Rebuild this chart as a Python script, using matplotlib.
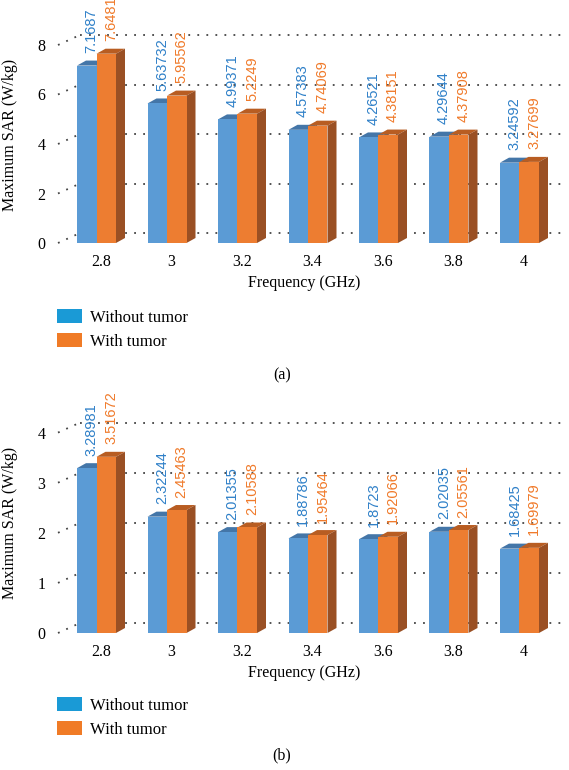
import numpy as np
import matplotlib
matplotlib.use("Agg")
import matplotlib.pyplot as plt
from matplotlib.patches import Polygon, Patch

# data
freqs = ['2.8', '3', '3.2', '3.4', '3.6', '3.8', '4']
sar_a_without = [7.1687, 5.63732, 4.99371, 4.57383, 4.26521, 4.29644, 3.24592]
sar_a_with = [7.6481, 5.95562, 5.2249, 4.74069, 4.38151, 4.37908, 3.27699]
sar_b_without = [3.28981, 2.32244, 2.01355, 1.88786, 1.8723, 2.02035, 1.68425]
sar_b_with = [3.51672, 2.45463, 2.10588, 1.95464, 1.92066, 2.05561, 1.69979]
yticks_a = [0, 2, 4, 6, 8]
yticks_b = [0, 1, 2, 3, 4]

plt.rcParams['font.family'] = ['Liberation Serif', 'DejaVu Serif']

W, H = 569, 770
fig = plt.figure(figsize=(W / 100, H / 100), dpi=100)

# colours
blue_front, blue_top, blue_side = '#5b9bd5', '#4476a8', '#3d6a98'
orange_front, orange_top, orange_side = '#ed7d31', '#b85d22', '#9a5024'
blue_txt, orange_txt = '#2f80c8', '#f07a2a'

# pixel geometry of the fake 3d
left_px, right_px = 58, 566
c0_px, step_px = 96.5, 70.5      # centre of first group, group spacing
bw_px = 19.5                     # width of one bar
dep_dx, dep_dy = 9, 5            # bar depth
wall_dx, wall_dy = 22, 10        # back wall offset


def panel(y0_px, top_px, unit_px, without, with_, yticks):
    xmin = -(c0_px - left_px) / step_px
    xmax = (right_px - c0_px) / step_px
    ytop = (y0_px - top_px) / unit_px
    ax = fig.add_axes([left_px / W, 1 - y0_px / H,
                       (right_px - left_px) / W, (y0_px - top_px) / H])
    ax.set_xlim(xmin, xmax)
    ax.set_ylim(0, ytop)
    ax.patch.set_visible(False)
    for s in ax.spines.values():
        s.set_visible(False)

    ux = 1 / step_px      # data units per pixel
    uy = 1 / unit_px
    bw = bw_px * ux
    ddx, ddy = dep_dx * ux, dep_dy * uy
    wdx, wdy = wall_dx * ux, wall_dy * uy

    # dotted back wall grid
    for t in yticks:
        ax.plot([xmin + wdx, xmax], [t + wdy, t + wdy], ls=(0, (1, 4)),
                color='#444444', lw=1.3, zorder=1, clip_on=False)
        ax.plot([xmin, xmin + wdx], [t, t + wdy], ls=(0, (1, 4)),
                color='#444444', lw=1.3, zorder=1, clip_on=False)

    x = np.arange(len(freqs))
    series = [(without, x - bw / 2, blue_front, blue_top, blue_side, blue_txt, 2),
              (with_, x + bw / 2, orange_front, orange_top, orange_side, orange_txt, 5)]
    for vals, xc, fc, tc, sc, txc, z in series:
        ax.bar(xc, vals, bw, color=fc, edgecolor='none', zorder=z + 1)
        for xi, v in zip(xc, vals):
            x0, x1 = xi - bw / 2, xi + bw / 2
            ax.add_patch(Polygon([(x0, v), (x1, v), (x1 + ddx, v + ddy), (x0 + ddx, v + ddy)],
                                 closed=True, fc=tc, ec='none', zorder=z))
            ax.add_patch(Polygon([(x1, 0), (x1 + ddx, ddy), (x1 + ddx, v + ddy), (x1, v)],
                                 closed=True, fc=sc, ec='none', zorder=z))
            ax.annotate(str(v), (xi, v), xytext=(3.5, 9), textcoords='offset points',
                        rotation=90, ha='center', va='bottom', color=txc,
                        fontsize=10.5, family=['Liberation Sans', 'DejaVu Sans'],
                        annotation_clip=False, zorder=10)

    ax.set_yticks(yticks)
    ax.set_yticklabels([str(t) for t in yticks], fontsize=11.5)
    ax.set_xticks(x + 0.06)
    ax.set_xticklabels(freqs, fontsize=11.5)
    ax.tick_params(length=0)
    ax.tick_params(axis='y', pad=9)
    ax.tick_params(axis='x', pad=8)
    return ax


panel(243, 0, 24.75, sar_a_without, sar_a_with, yticks_a)
panel(633, 400, 50.1, sar_b_without, sar_b_with, yticks_b)

# labels
for ylab_px, xlab_px in [(135, 283), (523, 673)]:
    fig.text(10 / W, 1 - ylab_px / H, 'Maximum SAR (W/kg)', rotation=90,
             ha='center', va='center', fontsize=11.5)
    fig.text(304 / W, 1 - xlab_px / H, 'Frequency (GHz)',
             ha='center', va='center', fontsize=11.5)

handles = [Patch(facecolor='#1a9ad6', edgecolor='none', label='Without tumor'),
           Patch(facecolor='#f07b26', edgecolor='none', label='With tumor')]
for top_px in [309, 697]:
    fig.legend(handles=handles, loc='upper left', bbox_to_anchor=(57 / W, 1 - top_px / H),
               frameon=False, fontsize=12, borderpad=0, borderaxespad=0,
               handlelength=1.5, handleheight=0.9, handletextpad=0.5, labelspacing=0.45)

fig.text(282 / W, 1 - 375 / H, '(a)', ha='center', va='center', fontsize=11.5)
fig.text(282 / W, 1 - 755 / H, '(b)', ha='center', va='center', fontsize=11.5)

plt.savefig('out.png', dpi=100)
